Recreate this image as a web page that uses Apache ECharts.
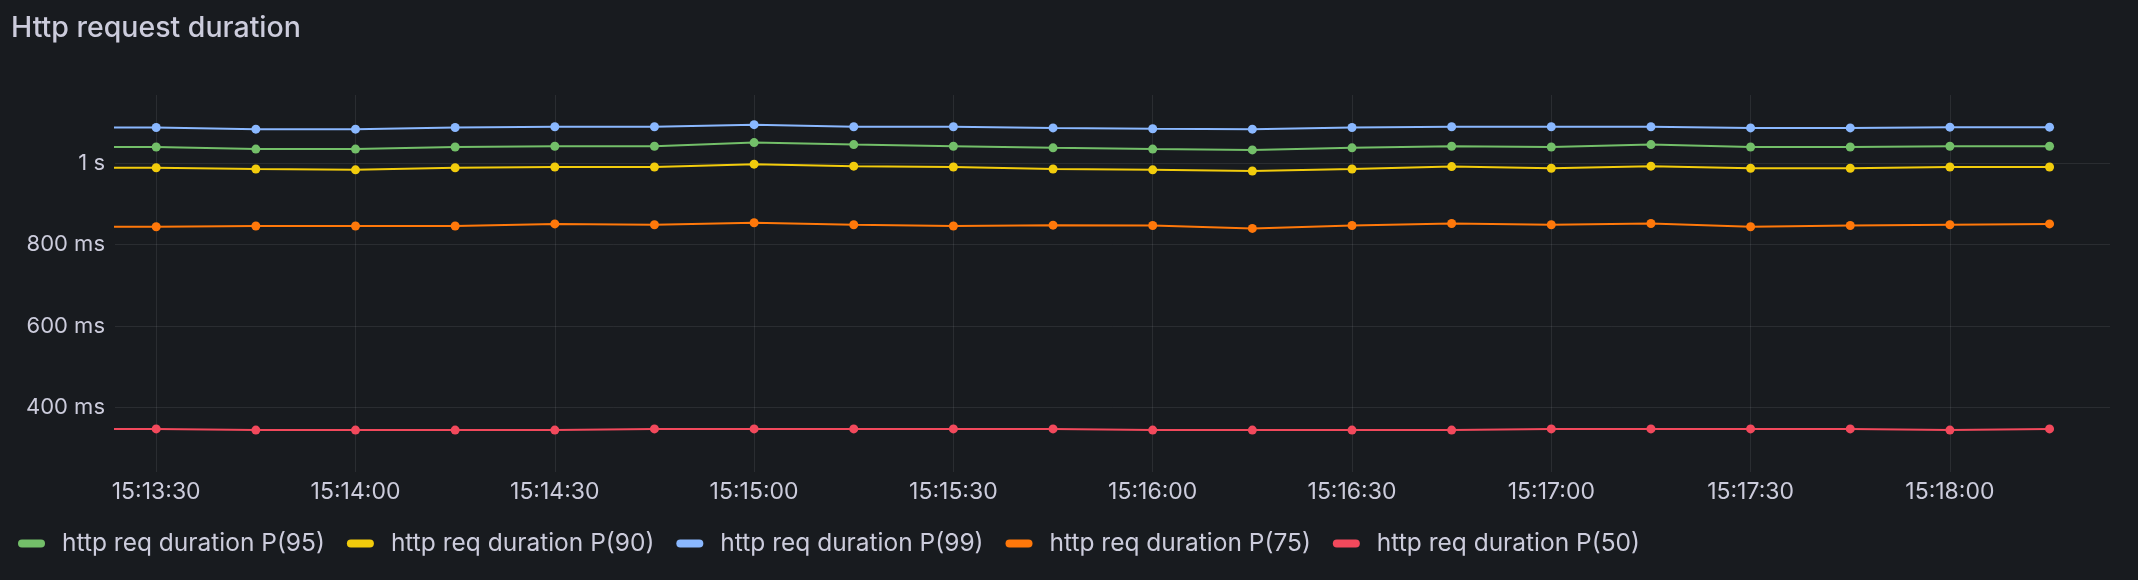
<!DOCTYPE html>
<html>
<head>
<meta charset="utf-8">
<script src="https://cdn.jsdelivr.net/npm/echarts@6/dist/echarts.min.js"></script>
<style>
html,body{margin:0;padding:0;background:#181b1f;}
#chart{width:2138px;height:580px;}
</style>
</head>
<body>
<div id="chart"></div>
<script>
// Time stamps (15 s steps); the first one sits just left of the visible range
const times = ["15:13:15","15:13:30","15:13:45","15:14:00","15:14:15","15:14:30","15:14:45","15:15:00","15:15:15","15:15:30","15:15:45","15:16:00","15:16:15","15:16:30","15:16:45","15:17:00","15:17:15","15:17:30","15:17:45","15:18:00","15:18:15"];
// Values in milliseconds
const p95 = [1040,1040,1035,1035,1040,1042,1042,1051,1046,1042,1038,1035,1033,1038,1042,1040,1046,1040,1040,1042,1042];
const p90 = [989,989,986,984,989,991,991,998,993,991,986,984,981,986,992,988,993,988,988,991,991];
const p99 = [1088,1088,1084,1084,1088,1090,1090,1095,1090,1090,1087,1085,1084,1088,1090,1090,1090,1087,1087,1089,1089];
const p75 = [844,844,846,846,846,851,849,854,849,846,848,847,840,847,852,849,852,844,847,849,851];
const p50 = [347,347,344,344,344,344,347,347,347,347,347,344,344,344,344,347,347,347,347,344,347];
const seriesNames = ["http req duration P(95)","http req duration P(90)","http req duration P(99)","http req duration P(75)","http req duration P(50)"];
const seriesColors = ["#73BF69","#F2CC0C","#8AB8FF","#FF780A","#F2495C"];
const xRange = ["15:13:23.8","15:18:24.1"];
const yRange = [241, 1168];

function toSec(t){const p=t.split(':');return (+p[0])*3600+(+p[1])*60+parseFloat(p[2]);}
function pad(n){return (n<10?'0':'')+n;}
function fmtTime(s){s=Math.round(s);const h=Math.floor(s/3600),m=Math.floor((s%3600)/60),ss=s%60;return pad(h)+':'+pad(m)+':'+pad(ss);}

const xs = times.map(toSec);
const allVals = [p95,p90,p99,p75,p50];
const textColor = '#ccccdc';
const gridColor = 'rgba(204,204,220,0.1)';
const FONT = 'Inter';

const chart = echarts.init(document.getElementById('chart'), null, {renderer:'canvas'});
chart.setOption({
  backgroundColor:'#181b1f',
  animation:false,
  title:{
    text:'Http request duration',
    left:11, top:14, padding:0,
    textStyle:{color:textColor, fontFamily:FONT, fontSize:28.5, fontWeight:500}
  },
  legend:{
    left:18, top:531, padding:0,
    itemWidth:27, itemHeight:8, itemGap:22,
    icon:'path://M4,0 H23 A4,4 0 0 1 23,8 H4 A4,4 0 0 1 4,0 Z',
    data:seriesNames,
    textStyle:{color:textColor, fontFamily:FONT, fontSize:24.5, padding:[0,0,0,12]}
  },
  grid:{left:115, right:28, top:95, bottom:108},
  xAxis:{
    type:'value',
    min:toSec(xRange[0]), max:toSec(xRange[1]),
    splitNumber:10, minInterval:30, maxInterval:30,
    axisLine:{show:false}, axisTick:{show:false},
    splitLine:{show:true, showMinLine:false, showMaxLine:false, lineStyle:{color:gridColor, width:1}},
    axisLabel:{color:textColor, fontFamily:FONT, fontSize:23, margin:9, showMinLabel:false, showMaxLabel:false,
      formatter:function(v){return fmtTime(v);}}
  },
  yAxis:{
    type:'value',
    min:yRange[0], max:yRange[1],
    splitNumber:5, minInterval:200, maxInterval:200,
    axisLine:{show:false}, axisTick:{show:false},
    splitLine:{show:true, showMinLine:false, showMaxLine:false, lineStyle:{color:gridColor, width:1}},
    axisLabel:{color:textColor, fontFamily:FONT, fontSize:22, margin:10, showMinLabel:false, showMaxLabel:false,
      formatter:function(v){return v>=1000 ? (v/1000)+' s' : v+' ms';}}
  },
  series: seriesNames.map(function(name,i){
    return {
      name:name, type:'line', clip:true,
      data: xs.map(function(x,j){return [x, allVals[i][j]];}),
      symbol:'circle', symbolSize:9, showSymbol:true,
      itemStyle:{color:seriesColors[i]},
      lineStyle:{color:seriesColors[i], width:2},
      emphasis:{disabled:true}
    };
  })
});
</script>
</body>
</html>
